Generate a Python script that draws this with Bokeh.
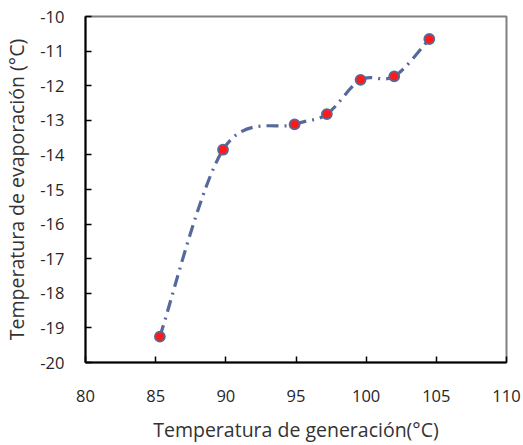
from bokeh.plotting import figure
from bokeh.models import Range1d, FixedTicker, ColumnDataSource
from bokeh.embed import file_html
from bokeh.resources import INLINE

# data
gen_temp = [85.3, 89.8, 94.9, 97.2, 99.6, 102.0, 104.5]
evap_temp = [-19.25, -13.85, -13.12, -12.82, -11.83, -11.73, -10.65]
x_ticks = [80, 85, 90, 95, 100, 105, 110]
y_ticks = [-20, -19, -18, -17, -16, -15, -14, -13, -12, -11, -10]

LINE = "#56699A"
FONT = "Open Sans"

p = figure(width=523, height=445, output_backend="svg", toolbar_location=None,
           x_range=Range1d(80, 110), y_range=Range1d(-20, -10),
           min_border_left=82, min_border_right=17, min_border_top=16, min_border_bottom=78)
p.grid.visible = False
p.background_fill_color = "white"
p.border_fill_color = "white"
p.outline_line_color = "#808080"
p.outline_line_width = 2

# smooth curve (Catmull-Rom style Bezier segments computed from the data)
n = len(gen_temp)
x0, y0, x1, y1, cx0, cy0, cx1, cy1 = [], [], [], [], [], [], [], []
for i in range(n - 1):
    ip = max(i - 1, 0)
    inn = min(i + 2, n - 1)
    x0.append(gen_temp[i]); y0.append(evap_temp[i])
    x1.append(gen_temp[i + 1]); y1.append(evap_temp[i + 1])
    cx0.append(gen_temp[i] + (gen_temp[i + 1] - gen_temp[ip]) / 6)
    cy0.append(evap_temp[i] + (evap_temp[i + 1] - evap_temp[ip]) / 6)
    cx1.append(gen_temp[i + 1] - (gen_temp[inn] - gen_temp[i]) / 6)
    cy1.append(evap_temp[i + 1] - (evap_temp[inn] - evap_temp[i]) / 6)
src = ColumnDataSource(dict(x0=x0, y0=y0, x1=x1, y1=y1, cx0=cx0, cy0=cy0, cx1=cx1, cy1=cy1))
p.bezier(x0="x0", y0="y0", x1="x1", y1="y1", cx0="cx0", cy0="cy0", cx1="cx1", cy1="cy1",
         source=src, line_color=LINE, line_width=3.2, line_dash="12 6 2 6")

p.scatter(gen_temp, evap_temp, size=10, fill_color="#FF1A1A",
          line_color=LINE, line_width=1.8)

for ax in (p.xaxis[0], p.yaxis[0]):
    ax.axis_line_color = "black"
    ax.axis_line_width = 2
    ax.major_tick_line_color = "black"
    ax.major_tick_line_width = 1.5
    ax.major_tick_in = 6
    ax.major_tick_out = 0
    ax.minor_tick_line_color = None
    ax.major_label_text_font = FONT
    ax.major_label_text_font_size = "16.5px"
    ax.major_label_text_color = "#262626"
    ax.axis_label_text_font = FONT
    ax.axis_label_text_font_size = "19.5px"
    ax.axis_label_text_font_style = "normal"
    ax.axis_label_text_color = "#333333"

p.xaxis.ticker = FixedTicker(ticks=x_ticks)
p.yaxis.ticker = FixedTicker(ticks=y_ticks)
p.xaxis.major_label_overrides = {t: str(t) for t in x_ticks}
p.yaxis.major_label_overrides = {t: str(t) for t in y_ticks}
p.xaxis.major_label_standoff = 27
p.yaxis.major_label_standoff = 21
p.xaxis.axis_label = "Temperatura de generación(°C)"
p.yaxis.axis_label = "Temperatura de evaporación (°C)"
p.xaxis.axis_label_standoff = 11
p.yaxis.axis_label_standoff = 7

open("out.html", "w").write(file_html(p, INLINE))
